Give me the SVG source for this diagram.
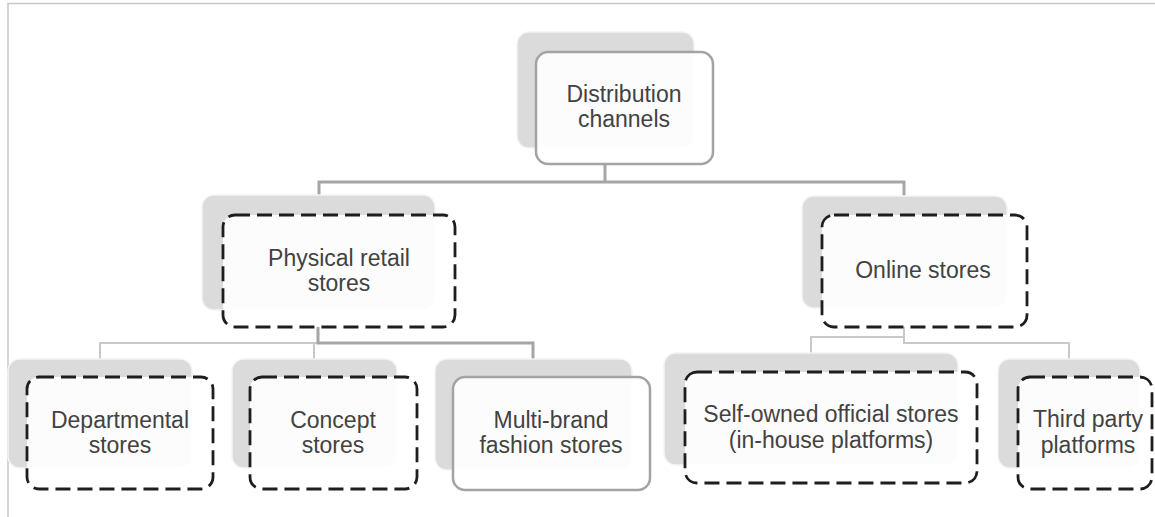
<svg xmlns="http://www.w3.org/2000/svg" width="1155" height="517" viewBox="0 0 1155 517">
  <style>
    .back { fill: #dbdbdb; stroke: #f4f4f4; stroke-width: 1.5; }
    .front { fill: #ffffff; fill-opacity: 0.92; }
    .solid { stroke: #a3a3a3; stroke-width: 2.5; }
    .dashed { stroke: #1e1e1e; stroke-width: 2.8; stroke-dasharray: 15 7; }
    .label { font-family: "Liberation Sans", Arial, sans-serif; font-size: 23px; fill: #424242; text-anchor: middle; }
    .link-dark { fill: none; stroke: #a6a6a6; stroke-width: 3; }
    .link-light { fill: none; stroke: #c9c9c9; stroke-width: 2; }
    .frame { fill: none; stroke: #c8c8c8; stroke-width: 1.5; }
  </style>

  <rect width="1155" height="517" fill="#ffffff"/>
  <path class="frame" d="M8,517 V3.5 H1155"/>

  <g id="connectors">
    <!-- root to second level -->
    <path class="link-dark" d="M605,164 V182 M319,197 V182 H904 V197"/>
    <!-- physical retail to its stores -->
    <path class="link-light" d="M100,359 V343 H318"/>
    <path class="link-light" d="M314,359 V343"/>
    <path class="link-dark" d="M318,327 V343 H533 V359"/>
    <!-- online to its platforms -->
    <path class="link-light" d="M811,353 V337 H904 V327"/>
    <path class="link-light" d="M904,337 V343 H1069 V359"/>
  </g>

  <g id="node-root">
    <rect class="back" x="517" y="32" width="177" height="116" rx="12"/>
    <rect class="front solid" x="536" y="52" width="177" height="112" rx="12"/>
    <text class="label" x="624" y="102">Distribution</text>
    <text class="label" x="624" y="127">channels</text>
  </g>

  <g id="node-physical">
    <rect class="back" x="202" y="195" width="233" height="115" rx="12"/>
    <rect class="front dashed" x="223" y="215" width="232" height="112" rx="12"/>
    <text class="label" x="339" y="266">Physical retail</text>
    <text class="label" x="339" y="291">stores</text>
  </g>

  <g id="node-online">
    <rect class="back" x="802" y="196" width="205" height="112" rx="12"/>
    <rect class="front dashed" x="822" y="215" width="205" height="112" rx="12"/>
    <text class="label" x="923" y="278">Online stores</text>
  </g>

  <g id="node-departmental">
    <rect class="back" x="8" y="359" width="184" height="109" rx="12"/>
    <rect class="front dashed" x="27" y="377" width="186" height="112" rx="12"/>
    <text class="label" x="120" y="428">Departmental</text>
    <text class="label" x="120" y="453">stores</text>
  </g>

  <g id="node-concept">
    <rect class="back" x="232" y="359" width="165" height="109" rx="12"/>
    <rect class="front dashed" x="250" y="377" width="167" height="112" rx="12"/>
    <text class="label" x="333" y="428">Concept</text>
    <text class="label" x="333" y="453">stores</text>
  </g>

  <g id="node-multibrand">
    <rect class="back" x="435" y="359" width="197" height="111" rx="12"/>
    <rect class="front solid" x="453" y="377" width="197" height="113" rx="12"/>
    <text class="label" x="551" y="428">Multi-brand</text>
    <text class="label" x="551" y="453">fashion stores</text>
  </g>

  <g id="node-selfowned">
    <rect class="back" x="664" y="353" width="294" height="112" rx="12"/>
    <rect class="front dashed" x="685" y="372" width="292" height="111" rx="12"/>
    <text class="label" x="831" y="422">Self-owned official stores</text>
    <text class="label" x="831" y="448">(in-house platforms)</text>
  </g>

  <g id="node-thirdparty">
    <rect class="back" x="998" y="359" width="142" height="109" rx="12"/>
    <rect class="front dashed" x="1018" y="377" width="134" height="112" rx="12"/>
    <text class="label" x="1088" y="427">Third party</text>
    <text class="label" x="1088" y="453">platforms</text>
  </g>
</svg>
